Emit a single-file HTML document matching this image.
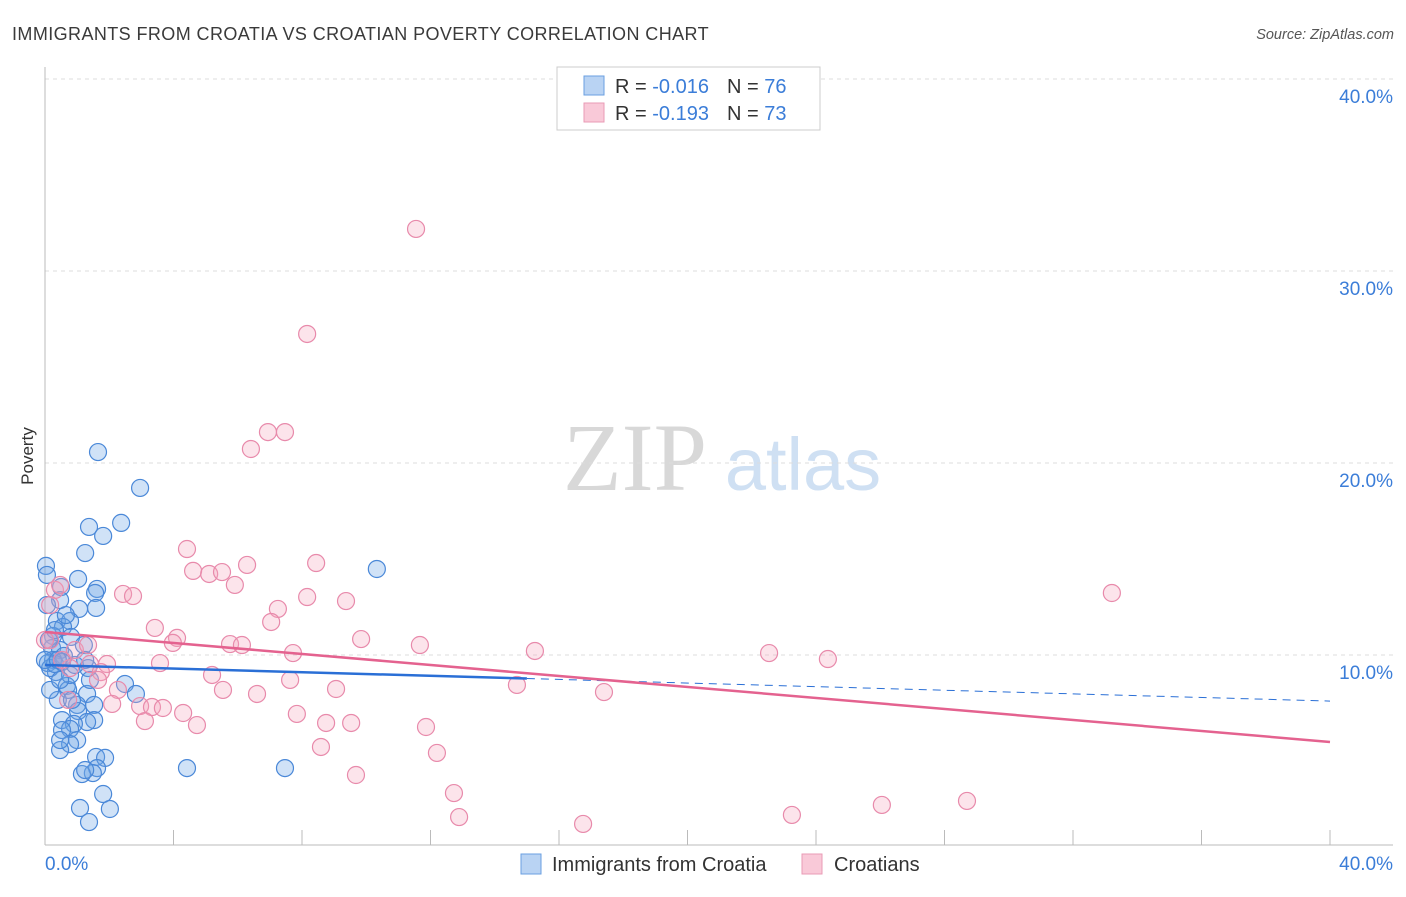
<!DOCTYPE html>
<html><head><meta charset="utf-8"><style>
body{margin:0;background:#fff;font-family:"Liberation Sans",sans-serif}
</style></head><body>
<svg id="c" width="1406" height="892" xmlns="http://www.w3.org/2000/svg" font-family="Liberation Sans, sans-serif">
<text x="12" y="40" font-size="18" letter-spacing="0.4" fill="#3a3a3a" textLength="697">IMMIGRANTS FROM CROATIA VS CROATIAN POVERTY CORRELATION CHART</text>
<text x="1394" y="39" font-size="14.5" fill="#555" font-style="italic" text-anchor="end">Source: ZipAtlas.com</text>
<g>
<text x="635" y="490" font-size="96" fill="#d8d8d8" font-family="Liberation Serif, serif" text-anchor="middle">ZIP</text>
<text x="803" y="490" font-size="74" fill="#cfe0f3" text-anchor="middle">atlas</text>
</g>
<text transform="translate(33,456) rotate(-90)" font-size="17" fill="#333" text-anchor="middle">Poverty</text>
<g id="grid"></g><g id="pts"></g><g id="lines"></g>
<g>
<rect x="557" y="67" width="263" height="63" fill="#fff" stroke="#ccc"/>
<rect x="584" y="76" width="20" height="19" fill="#b9d3f3" stroke="#6a9fe0"/>
<rect x="584" y="103" width="20" height="19" fill="#f9c9d8" stroke="#e99bb6"/>
<text x="615" y="93" font-size="20" fill="#333">R = <tspan fill="#3b7dd8">-0.016</tspan><tspan dx="18">N = </tspan><tspan fill="#3b7dd8">76</tspan></text>
<text x="615" y="120" font-size="20" fill="#333">R = <tspan fill="#3b7dd8"> -0.193</tspan><tspan dx="18">N = </tspan><tspan fill="#3b7dd8">73</tspan></text>
</g>
<g>
<rect x="521" y="854" width="20" height="20" fill="#b9d3f3" stroke="#6a9fe0"/>
<text x="552" y="871" font-size="20" fill="#333">Immigrants from Croatia</text>
<rect x="802" y="854" width="20" height="20" fill="#f9c9d8" stroke="#e99bb6"/>
<text x="834" y="871" font-size="20" fill="#333">Croatians</text>
</g>
</svg>
<script>
const yTicks=[10,20,30,40];
const xTicks=[0,40];
const blueX=[1.65,2.96,1.37,2.37,1.81,1.25,0.03,0.06,1.03,1.62,0.5,1.56,0.47,1.59,1.06,0.06,0.37,0.78,0.56,0.81,0.25,1.21,0.22,0.47,0.59,0.25,0.09,0.34,0.16,1.34,0.31,0.53,2.49,2.83,0.68,0.72,1.31,1.53,1.0,1.03,0.53,1.53,1.31,0.9,0.78,0.53,1.0,0.78,0.47,1.59,1.87,1.62,1.49,1.15,4.42,7.47,1.81,1.09,2.02,1.37,10.33,0.12,0.31,0.4,0.16,0.78,0,0.4,0.47,0.93,0.65,0.84,1.25,1.4,0.47,1.25];
const blueY=[20.57,18.7,16.67,16.88,16.2,15.31,14.64,14.17,13.96,13.44,13.54,13.23,12.86,12.45,12.4,12.6,11.77,11.77,11.46,10.94,10.99,10.52,10.36,10.26,9.95,9.74,9.58,9.11,9.32,9.32,9.53,9.64,8.49,7.97,8.39,8.18,7.97,7.4,7.4,7.08,6.61,6.61,6.51,6.41,6.15,6.09,5.57,5.36,5.05,4.69,4.64,4.11,3.85,3.8,4.11,4.11,2.76,2.03,1.98,1.3,14.48,10.78,11.3,7.66,8.18,8.96,9.74,9.74,8.7,9.48,12.08,7.66,9.74,8.7,5.57,4.01];
const pinkX=[11.55,8.16,6.94,7.47,6.41,4.42,4.61,5.11,5.51,6.29,8.44,5.91,2.43,2.74,8.16,9.37,7.25,7.04,3.42,4.11,3.98,5.76,6.13,9.84,11.67,15.25,22.54,24.37,33.21,7.72,3.58,1.93,1.4,0.78,1.74,5.2,7.63,5.54,9.06,6.6,2.27,1.65,14.69,17.4,2.09,2.96,3.33,3.67,4.3,7.84,4.73,3.11,8.75,9.53,11.86,8.59,12.2,9.68,12.73,12.89,16.75,23.25,26.05,28.7,0.16,0.31,0.47,0,0.93,0.53,1.34,0.16,0.72];
const pinkY=[32.19,26.72,21.61,21.61,20.73,15.52,14.38,14.22,14.32,14.69,14.79,13.65,13.18,13.07,13.02,12.81,12.4,11.72,11.41,10.89,10.63,10.57,10.52,10.83,10.52,10.21,10.1,9.79,13.23,10.1,9.58,9.53,9.53,9.32,9.11,8.96,8.7,8.18,8.23,7.97,8.18,8.7,8.44,8.07,7.45,7.34,7.29,7.24,6.98,6.93,6.35,6.56,6.46,6.46,6.25,5.21,4.9,3.75,2.81,1.56,1.2,1.67,2.19,2.4,10.78,13.39,13.65,10.78,10.26,9.74,10.52,12.6,7.66];
const blueTrend=[9.48,7.6];
const blueSolidEnd=15;
const pinkTrend=[11.2,5.47];
const NS='http://www.w3.org/2000/svg';
const X=v=>45+v*32.125, Y=v=>847-v*19.2;
function mk(tag,attrs,parent){const e=document.createElementNS(NS,tag);for(const k in attrs)e.setAttribute(k,attrs[k]);parent.appendChild(e);return e;}
const grid=document.getElementById('grid');
yTicks.forEach(t=>{
 const l=mk('line',{x1:45,x2:1393,y1:Y(t),y2:Y(t),stroke:'#ddd','stroke-dasharray':'4,4'},grid);
 
 
 const tx=mk('text',{x:1393,y:Y(t)+24,'font-size':19,fill:'#3b7dd8','text-anchor':'end'},grid);
 tx.textContent=t.toFixed(1)+'%';
 
 
});
const ax=mk('line',{x1:45,x2:1393,y1:845,y2:845,stroke:'#bbb'},grid);


const ay=mk('line',{x1:45,x2:45,y1:67,y2:845,stroke:'#bbb'},grid);


for(let i=1;i<=10;i++){const t=mk('line',{x1:X(i*4),x2:X(i*4),y1:830,y2:845,stroke:'#bbb'},grid);
 
 }
xTicks.forEach((t,i)=>{const tx=mk('text',{x:i?1393:45,y:870,'font-size':19,fill:'#3b7dd8','text-anchor':i?'end':'start'},grid);
 tx.textContent=t.toFixed(1)+'%';
 
 });
const pts=document.getElementById('pts');
blueX.forEach((x,i)=>{const c=mk('circle',{cx:X(x),cy:Y(blueY[i]),r:8.5,fill:'rgba(110,165,230,0.32)',stroke:'#4a88d8','stroke-width':1.2},pts);
 
 });
pinkX.forEach((x,i)=>{const c=mk('circle',{cx:X(x),cy:Y(pinkY[i]),r:8.5,fill:'rgba(245,165,190,0.3)',stroke:'#e88aab','stroke-width':1.2},pts);
 
 });
const lines=document.getElementById('lines');
const bAt=x=>blueTrend[0]+(blueTrend[1]-blueTrend[0])*x/40;
const pAt=x=>pinkTrend[0]+(pinkTrend[1]-pinkTrend[0])*x/40;
const b1=mk('line',{x1:X(0),y1:Y(bAt(0)),x2:X(blueSolidEnd),y2:Y(bAt(blueSolidEnd)),stroke:'#2a6fd6','stroke-width':2.5},lines);


const b2=mk('line',{x1:X(blueSolidEnd),y1:Y(bAt(blueSolidEnd)),x2:X(40),y2:Y(bAt(40)),stroke:'#2a6fd6','stroke-width':1,'stroke-dasharray':'8,6'},lines);


const p1=mk('line',{x1:X(0),y1:Y(pAt(0)),x2:X(40),y2:Y(pAt(40)),stroke:'#e4628f','stroke-width':2.5},lines);


</script>
</body></html>
